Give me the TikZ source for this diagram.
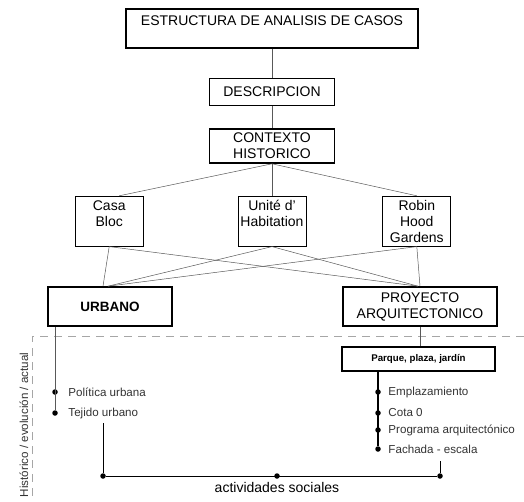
\documentclass[tikz,border=0pt]{standalone}
\usepackage{fontspec}
\setmainfont{Liberation Sans}
\usetikzlibrary{positioning}

\begin{document}
\begin{tikzpicture}[
  x=1pt, y=-1pt,
  font=\fontsize{14}{16}\selectfont,
  box/.style={rectangle, draw, line width=1.6pt, align=center, inner sep=2pt},
  casebox/.style={rectangle, draw, line width=0.8pt, minimum width=68pt, minimum height=50pt, align=center, inner sep=1pt},
  link/.style={draw=black!65, line width=0.5pt},
  dot/.style={circle, fill, inner sep=0pt, minimum size=5.5pt},
  item/.style={font=\fontsize{11.6}{13}\selectfont, text=black!80}
]
\useasboundingbox (0,0) rectangle (524,502);

\node[box, minimum width=292pt, minimum height=39pt, anchor=north] (titulo) at (272,8) {ESTRUCTURA DE ANALISIS DE CASOS\\\mbox{}};
\node[box, minimum width=125pt, minimum height=27pt, below=29pt of titulo] (descripcion) {DESCRIPCION};
\node[box, minimum width=125pt, minimum height=34pt, below=22pt of descripcion] (contexto) {CONTEXTO\\HISTORICO};
\node[casebox, below=32pt of contexto] (unite) {Unité d'\\Habitation\\\mbox{}};
\node[casebox, left=94pt of unite] (casabloc) {Casa\\Bloc\\\mbox{}};
\node[casebox, right=76pt of unite] (robinhood) {Robin\\Hood\\Gardens};
\node[box, font=\fontsize{13.5}{16}\selectfont\bfseries, minimum width=124pt, minimum height=39pt] (urbano) at (110,306.5) {URBANO};
\node[box, minimum width=154pt, minimum height=39pt] (proyecto) at (420,306.5) {PROYECTO\\ARQUITECTONICO};
\node[box, font=\fontsize{9.7}{12}\selectfont\bfseries, minimum width=153pt, minimum height=24pt] (parque) at (418.5,359) {Parque, plaza, jardín};

\draw[link] (titulo) -- (descripcion);
\draw[link] (descripcion) -- (contexto);
\draw[link] (contexto.south) -- ([xshift=10pt]casabloc.north);
\draw[link] (contexto.south) -- (unite.north);
\draw[link] (contexto.south) -- (robinhood.north);

\coordinate (urbanoin) at ([xshift=-2pt]urbano.north);
\coordinate (proyectoin) at ([xshift=-2pt]proyecto.north);
\draw[link] (casabloc.south) -- ([xshift=-7pt]urbano.north);
\draw[link] (casabloc.south) -- (proyectoin);
\draw[link] (unite.south) -- (urbanoin);
\draw[link] (unite.south) -- (proyectoin);
\draw[link] (robinhood.south) -- (urbanoin);
\draw[link] (robinhood.south) -- (proyecto.north);

% lower part
\draw[gray!70, line width=0.6pt, dash pattern=on 8pt off 6pt] (524,336) -- (32,336) -- (32,502);
\node[rotate=90, font=\fontsize{11.6}{13}\selectfont, text=black!80] (periodo) at (24,425) {Histórico / evolución / actual};

\node[dot] (politica) at (55,392) {};
\node[dot] (tejido) at (55,413) {};
\node[item, right=7pt of politica] (politicatxt) {Política urbana};
\node[item, right=7pt of tejido] (tejidotxt) {Tejido urbano};
\draw[link] (urbano.south -| politica) -- (tejido);

\draw[link] (proyecto.south) -- (proyecto.south |- parque.north);
\node[dot] (emplaz) at (378,392) {};
\node[dot] (cota) at (378,413) {};
\node[dot] (programa) at (378,430) {};
\node[dot] (fachada) at (378,449) {};
\node[item, right=4pt of emplaz] (emplaztxt) {Emplazamiento};
\node[item, right=4pt of cota] (cotatxt) {Cota 0};
\node[item, right=4pt of programa] (programatxt) {Programa arquitectónico};
\node[item, right=4pt of fachada] (fachadatxt) {Fachada - escala};
\draw[line width=1.2pt] (parque.south -| emplaz) -- (fachada);

\coordinate (tejidobaja) at (103,423);
\coordinate (fachadabaja) at (440,461);
\node[dot] (socializq) at (103,476) {};
\node[dot] (social) at (277,476) {};
\node[dot] (socialder) at (440,476) {};
\draw[line width=0.9pt] (tejidobaja) -- (socializq) -- (socialder) -- (fachadabaja);
\node[below=0pt of social] (actividades) {actividades sociales};

\end{tikzpicture}
\end{document}
